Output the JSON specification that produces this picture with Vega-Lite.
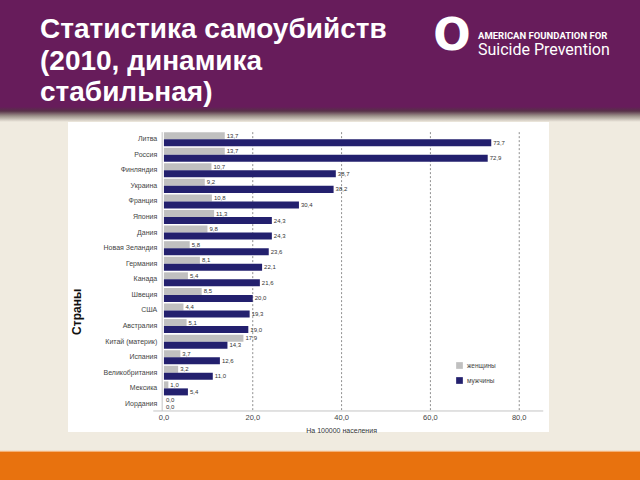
{
  "$schema": "https://vega.github.io/schema/vega-lite/v6.json",
  "background": "#f0ebe0",
  "padding": 0,
  "spacing": 0,
  "config": {
    "view": {"stroke": null},
    "font": "Liberation Sans",
    "locale": {"number": {"decimal": ",", "thousands": " ", "grouping": [3], "currency": ["", ""]}}
  },
  "vconcat": [
    {
      "spacing": 0,
      "hconcat": [
        {
          "width": 430, "height": 122,
          "view": {"stroke": null, "fill": {"gradient": "linear", "x1": 0, "y1": 0, "x2": 0, "y2": 1, "stops": [{"offset": 0, "color": "#671c5b"}, {"offset": 0.875, "color": "#671c5b"}, {"offset": 0.91, "color": "#573048"}, {"offset": 0.95, "color": "#9c918a"}, {"offset": 1, "color": "#f0ebe0"}]}},
          "title": {"text": ["Статистика самоубийств", "(2010, динамика", "стабильная)"], "anchor": "start", "frame": "group", "orient": "top", "offset": -107, "baseline": "top", "dx": 40, "font": "Liberation Sans", "fontSize": 28, "fontWeight": "bold", "color": "white", "lineHeight": 31.5},
          "data": {"values": [{}]},
          "mark": {"type": "text"},
          "encoding": {"text": {"value": ""}}
        },
        {
          "width": 44, "height": 122,
          "view": {"stroke": null, "fill": {"gradient": "linear", "x1": 0, "y1": 0, "x2": 0, "y2": 1, "stops": [{"offset": 0, "color": "#671c5b"}, {"offset": 0.875, "color": "#671c5b"}, {"offset": 0.91, "color": "#573048"}, {"offset": 0.95, "color": "#9c918a"}, {"offset": 1, "color": "#f0ebe0"}]}},
          "title": {"text": "O", "anchor": "middle", "frame": "group", "orient": "top", "offset": -59, "baseline": "top", "font": "DejaVu Sans", "fontSize": 44, "fontWeight": "bold", "color": "white"},
          "data": {"values": [{}]},
          "mark": {"type": "text"},
          "encoding": {"text": {"value": ""}}
        },
        {
          "width": 166, "height": 122,
          "view": {"stroke": null, "fill": {"gradient": "linear", "x1": 0, "y1": 0, "x2": 0, "y2": 1, "stops": [{"offset": 0, "color": "#671c5b"}, {"offset": 0.875, "color": "#671c5b"}, {"offset": 0.91, "color": "#573048"}, {"offset": 0.95, "color": "#9c918a"}, {"offset": 1, "color": "#f0ebe0"}]}},
          "title": {"text": "AMERICAN FOUNDATION FOR", "subtitle": "Suicide Prevention", "anchor": "start", "frame": "group", "orient": "top", "offset": -58, "baseline": "top", "dx": 4, "font": "Roboto", "fontSize": 9.5, "fontWeight": "bold", "color": "white", "subtitleFont": "Roboto", "subtitleFontSize": 16, "subtitleColor": "white", "subtitlePadding": 1.5},
          "data": {"values": [{}]},
          "mark": {"type": "text"},
          "encoding": {"text": {"value": ""}}
        }
      ]
    },
    {
      "spacing": 0,
      "hconcat": [
        {
          "width": 68, "height": 310,
          "data": {"values": [{}]},
          "mark": {"type": "text"},
          "encoding": {"text": {"value": ""}}
        },
        {
          "width": 481, "height": 310,
          "view": {"stroke": null, "fill": "white"},
          "data": {"values": [
            {"country": "Литва", "sex": "женщины", "value": 13.7},
            {"country": "Литва", "sex": "мужчины", "value": 73.7},
            {"country": "Россия", "sex": "женщины", "value": 13.7},
            {"country": "Россия", "sex": "мужчины", "value": 72.9},
            {"country": "Финляндия", "sex": "женщины", "value": 10.7},
            {"country": "Финляндия", "sex": "мужчины", "value": 38.7},
            {"country": "Украина", "sex": "женщины", "value": 9.2},
            {"country": "Украина", "sex": "мужчины", "value": 38.2},
            {"country": "Франция", "sex": "женщины", "value": 10.8},
            {"country": "Франция", "sex": "мужчины", "value": 30.4},
            {"country": "Япония", "sex": "женщины", "value": 11.3},
            {"country": "Япония", "sex": "мужчины", "value": 24.3},
            {"country": "Дания", "sex": "женщины", "value": 9.8},
            {"country": "Дания", "sex": "мужчины", "value": 24.3},
            {"country": "Новая Зеландия", "sex": "женщины", "value": 5.8},
            {"country": "Новая Зеландия", "sex": "мужчины", "value": 23.6},
            {"country": "Германия", "sex": "женщины", "value": 8.1},
            {"country": "Германия", "sex": "мужчины", "value": 22.1},
            {"country": "Канада", "sex": "женщины", "value": 5.4},
            {"country": "Канада", "sex": "мужчины", "value": 21.6},
            {"country": "Швеция", "sex": "женщины", "value": 8.5},
            {"country": "Швеция", "sex": "мужчины", "value": 20.0},
            {"country": "США", "sex": "женщины", "value": 4.4},
            {"country": "США", "sex": "мужчины", "value": 19.3},
            {"country": "Австралия", "sex": "женщины", "value": 5.1},
            {"country": "Австралия", "sex": "мужчины", "value": 19.0},
            {"country": "Китай (материк)", "sex": "женщины", "value": 17.9},
            {"country": "Китай (материк)", "sex": "мужчины", "value": 14.3},
            {"country": "Испания", "sex": "женщины", "value": 3.7},
            {"country": "Испания", "sex": "мужчины", "value": 12.6},
            {"country": "Великобритания", "sex": "женщины", "value": 3.2},
            {"country": "Великобритания", "sex": "мужчины", "value": 11.0},
            {"country": "Мексика", "sex": "женщины", "value": 1.0},
            {"country": "Мексика", "sex": "мужчины", "value": 5.4},
            {"country": "Иордания", "sex": "женщины", "value": 0.0},
            {"country": "Иордания", "sex": "мужчины", "value": 0.0}
          ]},
          "layer": [
            {
              "data": {"values": [{"tick": 20}, {"tick": 40}, {"tick": 60}, {"tick": 80}]},
              "mark": {"type": "rule", "color": "#8f8f8f", "strokeDash": [2, 2], "strokeWidth": 1},
              "encoding": {
                "x": {"field": "tick", "type": "quantitative", "axis": null},
                "y": {"datum": "Литва", "bandPosition": 0, "axis": null},
                "y2": {"datum": "Иордания", "bandPosition": 1}
              }
            },
            {
              "data": {"values": [{}]},
              "mark": {"type": "rule", "color": "#c4c4c4", "strokeWidth": 1},
              "encoding": {
                "x": {"datum": -0.4, "axis": null},
                "y": {"datum": "Литва", "bandPosition": 0, "axis": null},
                "y2": {"datum": "Иордания", "bandPosition": 1}
              }
            },
            {
              "data": {"values": [{}]},
              "mark": {"type": "rule", "color": "#c4c4c4", "strokeWidth": 1},
              "encoding": {
                "x": {"datum": -2.4, "axis": null},
                "x2": {"datum": 85.4},
                "y": {"datum": "Иордания", "bandPosition": 1, "axis": null}
              }
            },
            {
              "mark": {"type": "bar"},
              "encoding": {
                "y": {
                  "field": "country", "type": "nominal", "sort": null,
                  "scale": {"domain": ["Литва", "Россия", "Финляндия", "Украина", "Франция", "Япония", "Дания", "Новая Зеландия", "Германия", "Канада", "Швеция", "США", "Австралия", "Китай (материк)", "Испания", "Великобритания", "Мексика", "Иордания"], "paddingInner": 0.1, "paddingOuter": 1.518, "align": 0.325},
                  "axis": null
                },
                "yOffset": {"field": "sex", "type": "nominal", "sort": ["женщины", "мужчины"], "scale": {"paddingInner": 0, "paddingOuter": 0}},
                "x": {
                  "field": "value", "type": "quantitative",
                  "scale": {"domain": [-21.6, 86.7], "nice": false, "zero": false},
                  "axis": null
                },
                "x2": {"datum": 0},
                "color": {
                  "field": "sex", "type": "nominal",
                  "scale": {"domain": ["женщины", "мужчины"], "range": ["#c0c0c0", "#23206e"]},
                  "legend": {"orient": "none", "legendX": 456, "legendY": 362, "title": null, "padding": 0, "symbolType": "square", "symbolSize": 45, "symbolStrokeWidth": 0, "labelFontSize": 6.5, "labelColor": "#444", "rowPadding": 8}
                }
              }
            },
            {
              "mark": {"type": "text", "align": "left", "baseline": "middle", "dx": 2, "fontSize": 6, "color": "#333"},
              "encoding": {
                "y": {"field": "country", "type": "nominal", "sort": null, "axis": null},
                "yOffset": {"field": "sex", "type": "nominal", "sort": ["женщины", "мужчины"]},
                "x": {"field": "value", "type": "quantitative", "axis": null},
                "text": {"field": "value", "type": "quantitative", "format": ".1f"}
              }
            },
            {
              "transform": [{"filter": "datum.sex === 'женщины'"}],
              "mark": {"type": "text", "align": "right", "baseline": "middle", "fontSize": 7, "color": "#444"},
              "encoding": {
                "y": {"field": "country", "type": "nominal", "sort": null, "axis": null},
                "x": {"datum": -1.5, "axis": null},
                "text": {"field": "country", "type": "nominal"}
              }
            },
            {
              "data": {"values": [{"tick": 0}, {"tick": 20}, {"tick": 40}, {"tick": 60}, {"tick": 80}]},
              "mark": {"type": "text", "align": "center", "baseline": "top", "dy": 3, "fontSize": 7.5, "color": "#444"},
              "encoding": {
                "x": {"field": "tick", "type": "quantitative", "axis": null},
                "y": {"datum": "Иордания", "bandPosition": 1, "axis": null},
                "text": {"field": "tick", "type": "quantitative", "format": ".1f"}
              }
            },
            {
              "data": {"values": [{"label": "На 100000 населения"}]},
              "mark": {"type": "text", "align": "center", "baseline": "top", "dy": 16, "fontSize": 7, "color": "#333"},
              "encoding": {
                "x": {"datum": 40, "axis": null},
                "y": {"datum": "Иордания", "bandPosition": 1, "axis": null},
                "text": {"field": "label", "type": "nominal"}
              }
            },
            {
              "data": {"values": [{"label": "Страны"}]},
              "mark": {"type": "text", "align": "center", "baseline": "bottom", "angle": 270, "fontSize": 12, "fontWeight": "bold", "color": "#111"},
              "encoding": {
                "y": {"datum": "США", "bandPosition": 0.6, "axis": null},
                "x": {"datum": -18, "axis": null},
                "text": {"field": "label", "type": "nominal"}
              }
            }
          ]
        }
      ]
    },
    {
      "width": 640, "height": 48,
      "view": {"stroke": null, "fill": {"gradient": "linear", "x1": 0, "y1": 0, "x2": 0, "y2": 1, "stops": [{"offset": 0, "color": "#f0ebe0"}, {"offset": 0.34, "color": "#f0ebe0"}, {"offset": 0.35, "color": "#f7c99e"}, {"offset": 0.37, "color": "#f3a766"}, {"offset": 0.385, "color": "#e8720e"}, {"offset": 1, "color": "#e8720e"}]}},
      "data": {"values": [{}]},
      "mark": {"type": "text"},
      "encoding": {"text": {"value": ""}}
    }
  ]
}
